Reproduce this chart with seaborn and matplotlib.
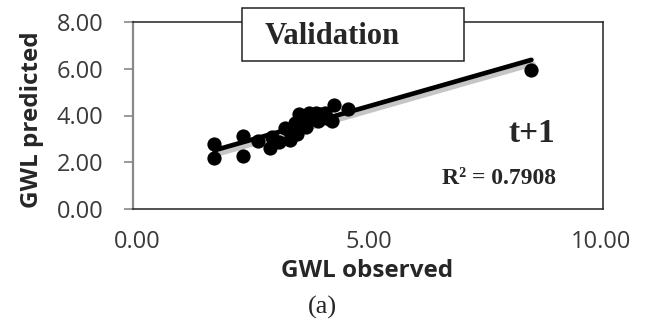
import matplotlib
matplotlib.use("Agg")
import matplotlib.pyplot as plt
import matplotlib.patheffects as pe
from matplotlib.patches import Rectangle
import pandas as pd
import seaborn as sns

# Data
gwl_observed = [1.67, 1.67, 2.28, 2.28, 2.60, 2.87, 2.90, 3.05, 3.20, 3.30, 3.30, 3.40,
                3.45, 3.50, 3.55, 3.60, 3.65, 3.70, 3.75, 3.85, 3.90, 3.95, 4.00, 4.05,
                4.10, 4.20, 4.25, 4.55, 8.50]
gwl_predicted = [2.78, 2.20, 3.12, 2.28, 2.90, 2.62, 3.10, 2.88, 3.45, 2.95, 3.30, 3.70,
                 3.20, 4.05, 3.55, 3.90, 3.50, 4.10, 3.85, 4.12, 3.75, 4.05, 4.00, 4.10,
                 3.90, 3.75, 4.45, 4.28, 5.93]
x_ticks = [0.0, 5.0, 10.0]
y_ticks = [0.0, 2.0, 4.0, 6.0, 8.0]
title_text = "Validation"
step_text = "t+1"
r2_text = "R\u00b2 = 0.7908"
caption = "(a)"

df = pd.DataFrame({"obs": gwl_observed, "pred": gwl_predicted})

sns.set_theme(style="white")
plt.rcParams["font.family"] = ["Open Sans", "DejaVu Sans"]

W, H = 648, 320
fig = plt.figure(figsize=(6.48, 3.2), dpi=100)
ax = fig.add_axes([133 / W, 1 - 209 / H, (603 - 133) / W, (209 - 22) / H])

sns.regplot(data=df, x="obs", y="pred", ax=ax, ci=None, truncate=True,
            scatter_kws=dict(s=105, color="black", alpha=1, edgecolor="black",
                             linewidths=0, zorder=3),
            line_kws=dict(color="black", lw=3.4, zorder=2,
                          path_effects=[pe.SimpleLineShadow(offset=(1.5, -3), shadow_color="gray",
                                                            alpha=0.45, rho=0.6),
                                        pe.Normal()]))

# 0 at ~137 px, 10 at ~601 px
px_per_unit = 46.4
ax.set_xlim(-4 / px_per_unit, 10 + 2 / px_per_unit)
ax.set_ylim(0, 8)
ax.set_xticks(x_ticks)
ax.set_yticks(y_ticks)
ax.set_xticklabels([f"{v:.2f}" for v in x_ticks], fontsize=17, color="#3a3a3a")
ax.set_yticklabels([f"{v:.2f}" for v in y_ticks], fontsize=17, color="#3a3a3a")
ax.tick_params(axis="y", which="major", left=True, length=6.5, width=1.2,
               color="#888888", pad=15)
ax.tick_params(axis="x", which="major", bottom=False, length=0, pad=15)

for side in ["top", "right", "bottom"]:
    ax.spines[side].set_visible(True)
    ax.spines[side].set_color("#222222")
    ax.spines[side].set_linewidth(1.1)
ax.spines["left"].set_color("#888888")
ax.spines["left"].set_linewidth(1.6)

ax.set_xlabel("GWL observed", fontsize=17.5, fontweight="bold", va="center")
ax.set_ylabel("GWL predicted", fontsize=17.5, fontweight="bold", va="center")
ax.xaxis.set_label_coords((367 - 133) / 470, (209 - 271) / 187)
ax.yaxis.set_label_coords((32 - 133) / 470, (209 - 120) / 187)

serif = ["Liberation Serif", "DejaVu Serif"]
fig.patches.append(Rectangle((242 / W, 1 - 61 / H), (464 - 242) / W, (61 - 8) / H,
                             transform=fig.transFigure, facecolor="white",
                             edgecolor="#222222", lw=1.1, zorder=5))
fig.text(332 / W, 1 - 36 / H, title_text, ha="center", va="center",
         fontsize=22, fontweight="bold", family=serif, zorder=6)
fig.text(532 / W, 1 - 134 / H, step_text, ha="center", va="center",
         fontsize=24, fontweight="bold", family=serif)
fig.text(499 / W, 1 - 179 / H, r2_text, ha="center", va="center",
         fontsize=17, fontweight="bold", family=serif)
fig.text(322 / W, 1 - 307 / H, caption, ha="center", va="center",
         fontsize=19, family=serif)

fig.savefig("out.png", dpi=100, facecolor="white")
